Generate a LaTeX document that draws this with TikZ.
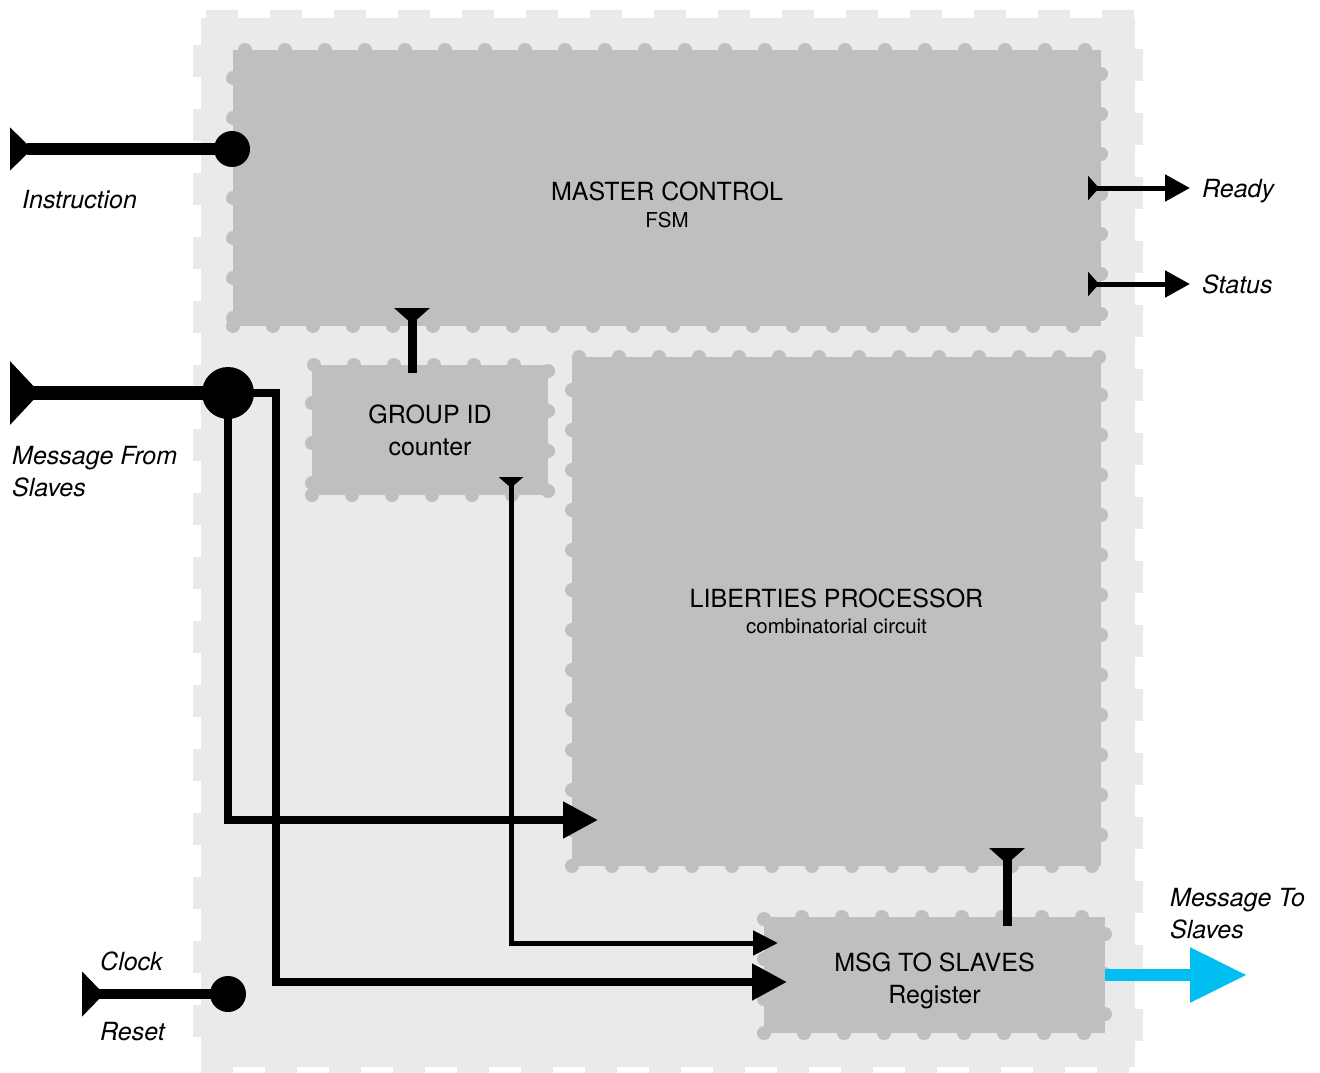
\documentclass[tikz,border=0pt]{standalone}
\usepackage{fontspec}
\setmainfont{TeX Gyre Heros}
\usetikzlibrary{arrows.meta,calc}
\definecolor{panelgray}{RGB}{234,234,234}
\definecolor{blockgray}{RGB}{191,191,191}
\definecolor{busblue}{RGB}{0,190,242}
\newcommand{\sublabel}[1]{{\fontsize{20.5}{24}\selectfont #1}}

\begin{document}
\begin{tikzpicture}[x=1pt,y=-1pt,
    every node/.style={font=\fontsize{25}{32}\selectfont,align=center},
    chip/.style={draw=panelgray,fill=panelgray,line width=16pt,dash pattern=on 32pt off 32pt,outer sep=0pt,inner sep=0pt},
    block/.style={draw=blockgray,fill=blockgray,line width=14pt,dash pattern=on 0pt off 40pt,line cap=round,outer sep=0pt,inner sep=0pt},
    jack/.style={circle,fill=black,inner sep=0pt,outer sep=0pt,minimum size=#1},
    port/.style={font=\itshape\fontsize{25}{32}\selectfont,inner sep=0pt,align=left}]
            \fill[white] (0,0) rectangle (1320,1073);
            \useasboundingbox (0,0) rectangle (1320,1073);
            \node[chip,minimum width=934pt,minimum height=1049pt] (chip) at (668,542.5) {};
            \node[block,minimum width=868pt,minimum height=276pt] (master) at (667,188) {};
            \node (mastername) at ([yshift=-17pt]master.center) {MASTER CONTROL\\[-5pt]\sublabel{FSM}};
            \node[block,minimum width=236pt,minimum height=130pt] (grp) at (430,430) {GROUP ID\\counter};
            \node[block,minimum width=529pt,minimum height=509pt] (lib) at (836.5,611.5) {LIBERTIES PROCESSOR\\[-6pt]\sublabel{combinatorial circuit}};
            \node[block,minimum width=341pt,minimum height=116pt] (msg) at (934.5,975) {};
            \node (msgname) at ([yshift=-6pt]msg.center) {MSG TO SLAVES\\Register};
            \node[jack=36pt] (instrjack) at (232,149) {};
            \node[jack=52pt] (rxjack) at (228,393) {};
            \node[jack=36pt] (clkjack) at (228,994) {};
            \coordinate (instrin) at (10,149);
            \coordinate (rxin) at (10,393);
            \coordinate (clkin) at (82,994);
            \coordinate (rdyfrom) at (1088,188);
            \coordinate (rdyto) at (1190,188);
            \coordinate (statfrom) at (1088,284);
            \coordinate (statto) at (1190,284);
            \coordinate (cntin) at (412,308);
            \coordinate (cntout) at (511,477);
            \coordinate (regin) at (1007,848);
            \coordinate (libin) at (598,820);
            \coordinate (regcnt) at (778,943);
            \coordinate (rxbend) at (276,982);
            \coordinate (regrx) at (787,982);
            \coordinate (txout) at (1247,975);
            \draw[line width=12pt,{Triangle[reversed,length=22pt,width=42pt]}-] (instrin) -- (instrjack.center);
            \draw[line width=14pt,{Triangle[reversed,length=30pt,width=62pt]}-] (rxin) -- (rxjack.center);
            \draw[line width=10pt,{Triangle[reversed,length=22pt,width=44pt]}-] (clkin) -- (clkjack.center);
            \draw[line width=5pt,{Triangle[reversed,length=11pt,width=24pt]}-{Triangle[length=25pt,width=26pt]}] (rdyfrom) -- (rdyto);
            \draw[line width=5pt,{Triangle[reversed,length=11pt,width=24pt]}-{Triangle[length=25pt,width=26pt]}] (statfrom) -- (statto);
            \draw[line width=9pt,{Triangle[reversed,length=16pt,width=35pt]}-] (cntin) -- ($(cntin |- grp.north)+(0,8)$);
            \draw[line width=9pt,{Triangle[reversed,length=16pt,width=35pt]}-] (regin) -- ($(regin |- msg.north)+(0,9)$);
            \draw[line width=5pt,{Triangle[reversed,length=11pt,width=24pt]}-{Triangle[length=25pt,width=24pt]}] (cntout) |- (regcnt);
            \draw[line width=8pt,-{Triangle[length=35pt,width=35pt]}] (rxjack.center) |- (libin);
            \draw[line width=8pt,-{Triangle[length=35pt,width=35pt]}] (rxjack.center) -| (rxbend) -- (regrx);
            \draw[line width=12pt,busblue,-{Triangle[length=57pt,width=52pt]}] (msg.east) -- (txout);
            \node[port,anchor=base west] (instrlbl) at (22,208) {Instruction};
            \node[port,anchor=north west] (rxlbl) at (12,446) {Message From\\Slaves};
            \node[port,anchor=base west] (clklbl) at (100,970) {Clock};
            \node[port,anchor=base west] (rstlbl) at (100,1040) {Reset};
            \node[port,anchor=base west] (rdylbl) at (1202,197) {Ready};
            \node[port,anchor=base west] (statlbl) at (1202,293) {Status};
            \node[port,anchor=north west] (txlbl) at (1170,888) {Message To\\Slaves};
        \end{tikzpicture}
\end{document}
